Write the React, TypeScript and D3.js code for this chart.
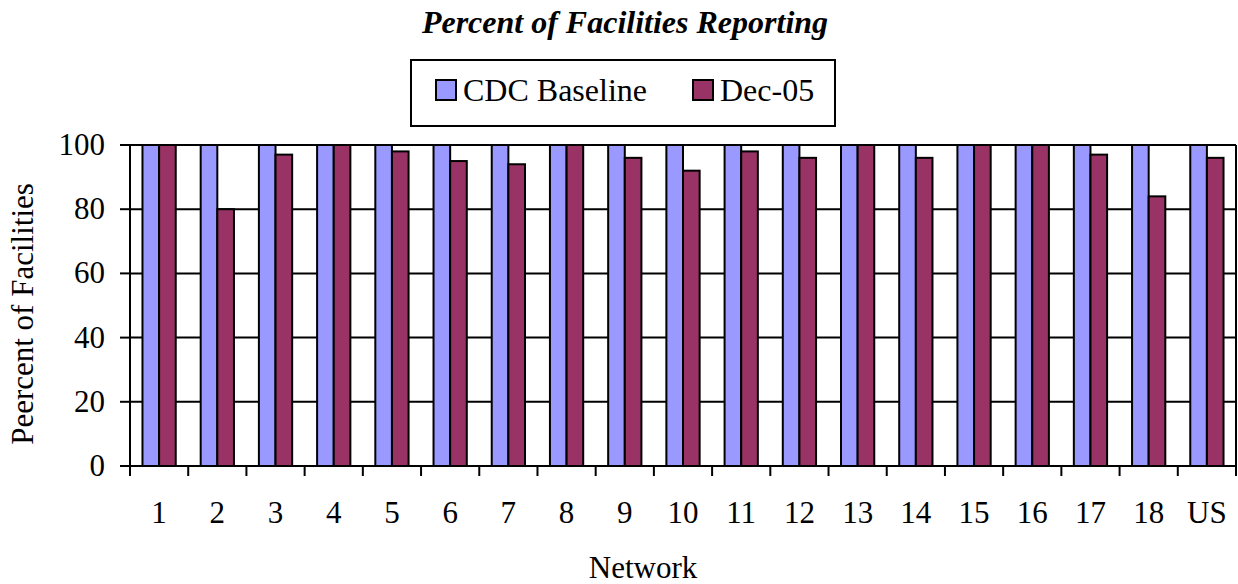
import React from "react";
import * as d3 from "d3";

const categories = ["1","2","3","4","5","6","7","8","9","10","11","12","13","14","15","16","17","18","US"];
const seriesNames = ["CDC Baseline", "Dec-05"];
const cdcBaseline = [100,100,100,100,100,100,100,100,100,100,100,100,100,100,100,100,100,100,100];
const dec05 = [100,80,97,100,98,95,94,100,96,92,98,96,100,96,100,100,97,84,96];
const yTicks = [0,20,40,60,80,100];
const colors = ["#9999FF", "#993366"];

const W = 1238, H = 584;
const left = 130, right = 1236, top = 145, bottom = 466;
const font = "Liberation Serif, serif";

export default function App() {
  const x0 = d3.scaleBand<string>().domain(categories).range([left, right]).padding(0);
  const x1 = d3.scaleBand<string>().domain(seriesNames).range([0, x0.bandwidth()]).paddingInner(0).paddingOuter(0.75);
  const y = d3.scaleLinear().domain([0, 100]).range([bottom, top]);
  const data = [cdcBaseline, dec05];

  return (
    <svg width={W} height={H} style={{ position: "absolute", left: 0, top: 0, display: "block", background: "#fff", fontFamily: font }}>
      <rect x={0} y={0} width={W} height={H} fill="#fff" />
      <text x={625} y={33} textAnchor="middle" fontSize={32} fontWeight="bold" fontStyle="italic">Percent of Facilities Reporting</text>

      {/* legend */}
      <rect x={411} y={60} width={424} height={66} fill="#fff" stroke="#000" strokeWidth={2} />
      {seriesNames.map((s, i) => {
        const lx = i === 0 ? 436 : 693;
        return (
          <g key={s}>
            <rect x={lx} y={80} width={20} height={20} fill={colors[i]} stroke="#000" strokeWidth={2} />
            <text x={lx + 27} y={101} fontSize={32}>{s}</text>
          </g>
        );
      })}

      {/* gridlines */}
      {yTicks.map(t => (
        <line key={t} x1={left} x2={right} y1={y(t)} y2={y(t)} stroke="#000" strokeWidth={2} />
      ))}
      {/* plot border */}
      <line x1={right} x2={right} y1={top} y2={bottom} stroke="#000" strokeWidth={2} />

      {/* bars */}
      {categories.map((c, ci) => (
        <g key={c}>
          {seriesNames.map((s, si) => (
            <rect key={s}
              x={(x0(c) as number) + (x1(s) as number)}
              y={y(data[si][ci])}
              width={x1.bandwidth()}
              height={y(0) - y(data[si][ci])}
              fill={colors[si]} stroke="#000" strokeWidth={2} />
          ))}
        </g>
      ))}

      {/* y axis */}
      <line x1={left} x2={left} y1={top} y2={bottom} stroke="#000" strokeWidth={2} />
      {yTicks.map(t => (
        <g key={t}>
          <line x1={left - 10} x2={left} y1={y(t)} y2={y(t)} stroke="#000" strokeWidth={2} />
          <text x={105} y={y(t) + 10} textAnchor="end" fontSize={31}>{t}</text>
        </g>
      ))}

      {/* x axis ticks */}
      {[...categories.map(c => x0(c) as number), right].map((xv, i) => (
        <line key={i} x1={xv} x2={xv} y1={bottom} y2={bottom + 10} stroke="#000" strokeWidth={2} />
      ))}
      {categories.map(c => (
        <text key={c} x={(x0(c) as number) + x0.bandwidth() / 2} y={523} textAnchor="middle" fontSize={31}>{c}</text>
      ))}

      <text x={643} y={578} textAnchor="middle" fontSize={31}>Network</text>
      <text transform={`translate(33,${314}) rotate(-90)`} textAnchor="middle" fontSize={31}>Peercent of Facilities</text>
    </svg>
  );
}
